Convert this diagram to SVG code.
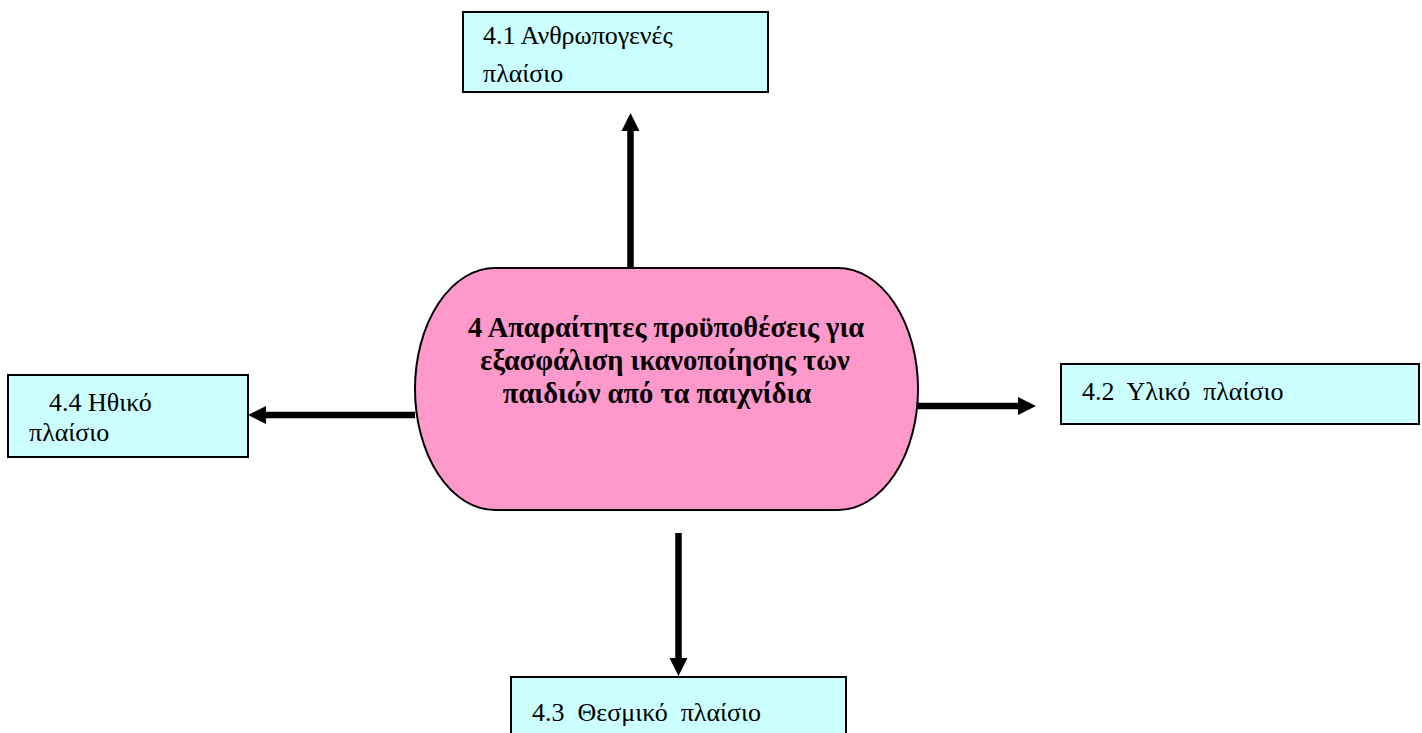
<svg xmlns="http://www.w3.org/2000/svg" width="1422" height="733" viewBox="0 0 1422 733">
<style>
.box{fill:#CCFFFF;stroke:#000;stroke-width:2}
.main{fill:#FF99CC;stroke:#000;stroke-width:2}
.t{font-family:"Liberation Serif","Times New Roman",serif;font-size:26px;fill:#000}
.tb{font-family:"Liberation Serif","Times New Roman",serif;font-size:28.5px;font-weight:bold;fill:#000;text-anchor:middle}
.c{stroke:#000;stroke-width:6.5;fill:none;marker-end:url(#ah)}
</style>
<defs>
<marker id="ah" markerUnits="userSpaceOnUse" markerWidth="20" markerHeight="20" refX="0" refY="9" orient="auto" overflow="visible">
<path d="M0,0 L18,9 L0,18 z" fill="#000"/>
</marker>
</defs>
<rect width="1422" height="733" fill="#fff"/>
<g id="connectors">
<line class="c" x1="630.5" y1="268" x2="630.5" y2="131"/>
<line class="c" x1="678.5" y1="533" x2="678.5" y2="658"/>
<line class="c" x1="918" y1="406" x2="1018" y2="406"/>
<line class="c" x1="415" y1="415" x2="266" y2="415"/>
</g>
<g id="n4">
<rect class="main" x="415" y="268" width="503" height="242" rx="80" ry="121"/>
<text class="tb" x="666" y="337">4 Απαραίτητες προϋποθέσεις για</text>
<text class="tb" x="665" y="370">εξασφάλιση ικανοποίησης των</text>
<text class="tb" x="657" y="403">παιδιών από τα παιχνίδια</text>
</g>
<g id="n41">
<rect class="box" x="463" y="12" width="305" height="80"/>
<text class="t" x="483" y="44">4.1 Ανθρωπογενές</text>
<text class="t" x="483" y="82">πλαίσιο</text>
</g>
<g id="n42">
<rect class="box" x="1061" y="364" width="358" height="60"/>
<text class="t" x="1082" y="400" xml:space="preserve">4.2  Υλικό  πλαίσιο</text>
</g>
<g id="n43">
<rect class="box" x="511" y="677" width="335" height="60"/>
<text class="t" x="532" y="721" xml:space="preserve">4.3  Θεσμικό  πλαίσιο</text>
</g>
<g id="n44">
<rect class="box" x="8" y="375" width="240" height="82"/>
<text class="t" x="49" y="411">4.4 Ηθικό</text>
<text class="t" x="29" y="441">πλαίσιο</text>
</g>
</svg>
